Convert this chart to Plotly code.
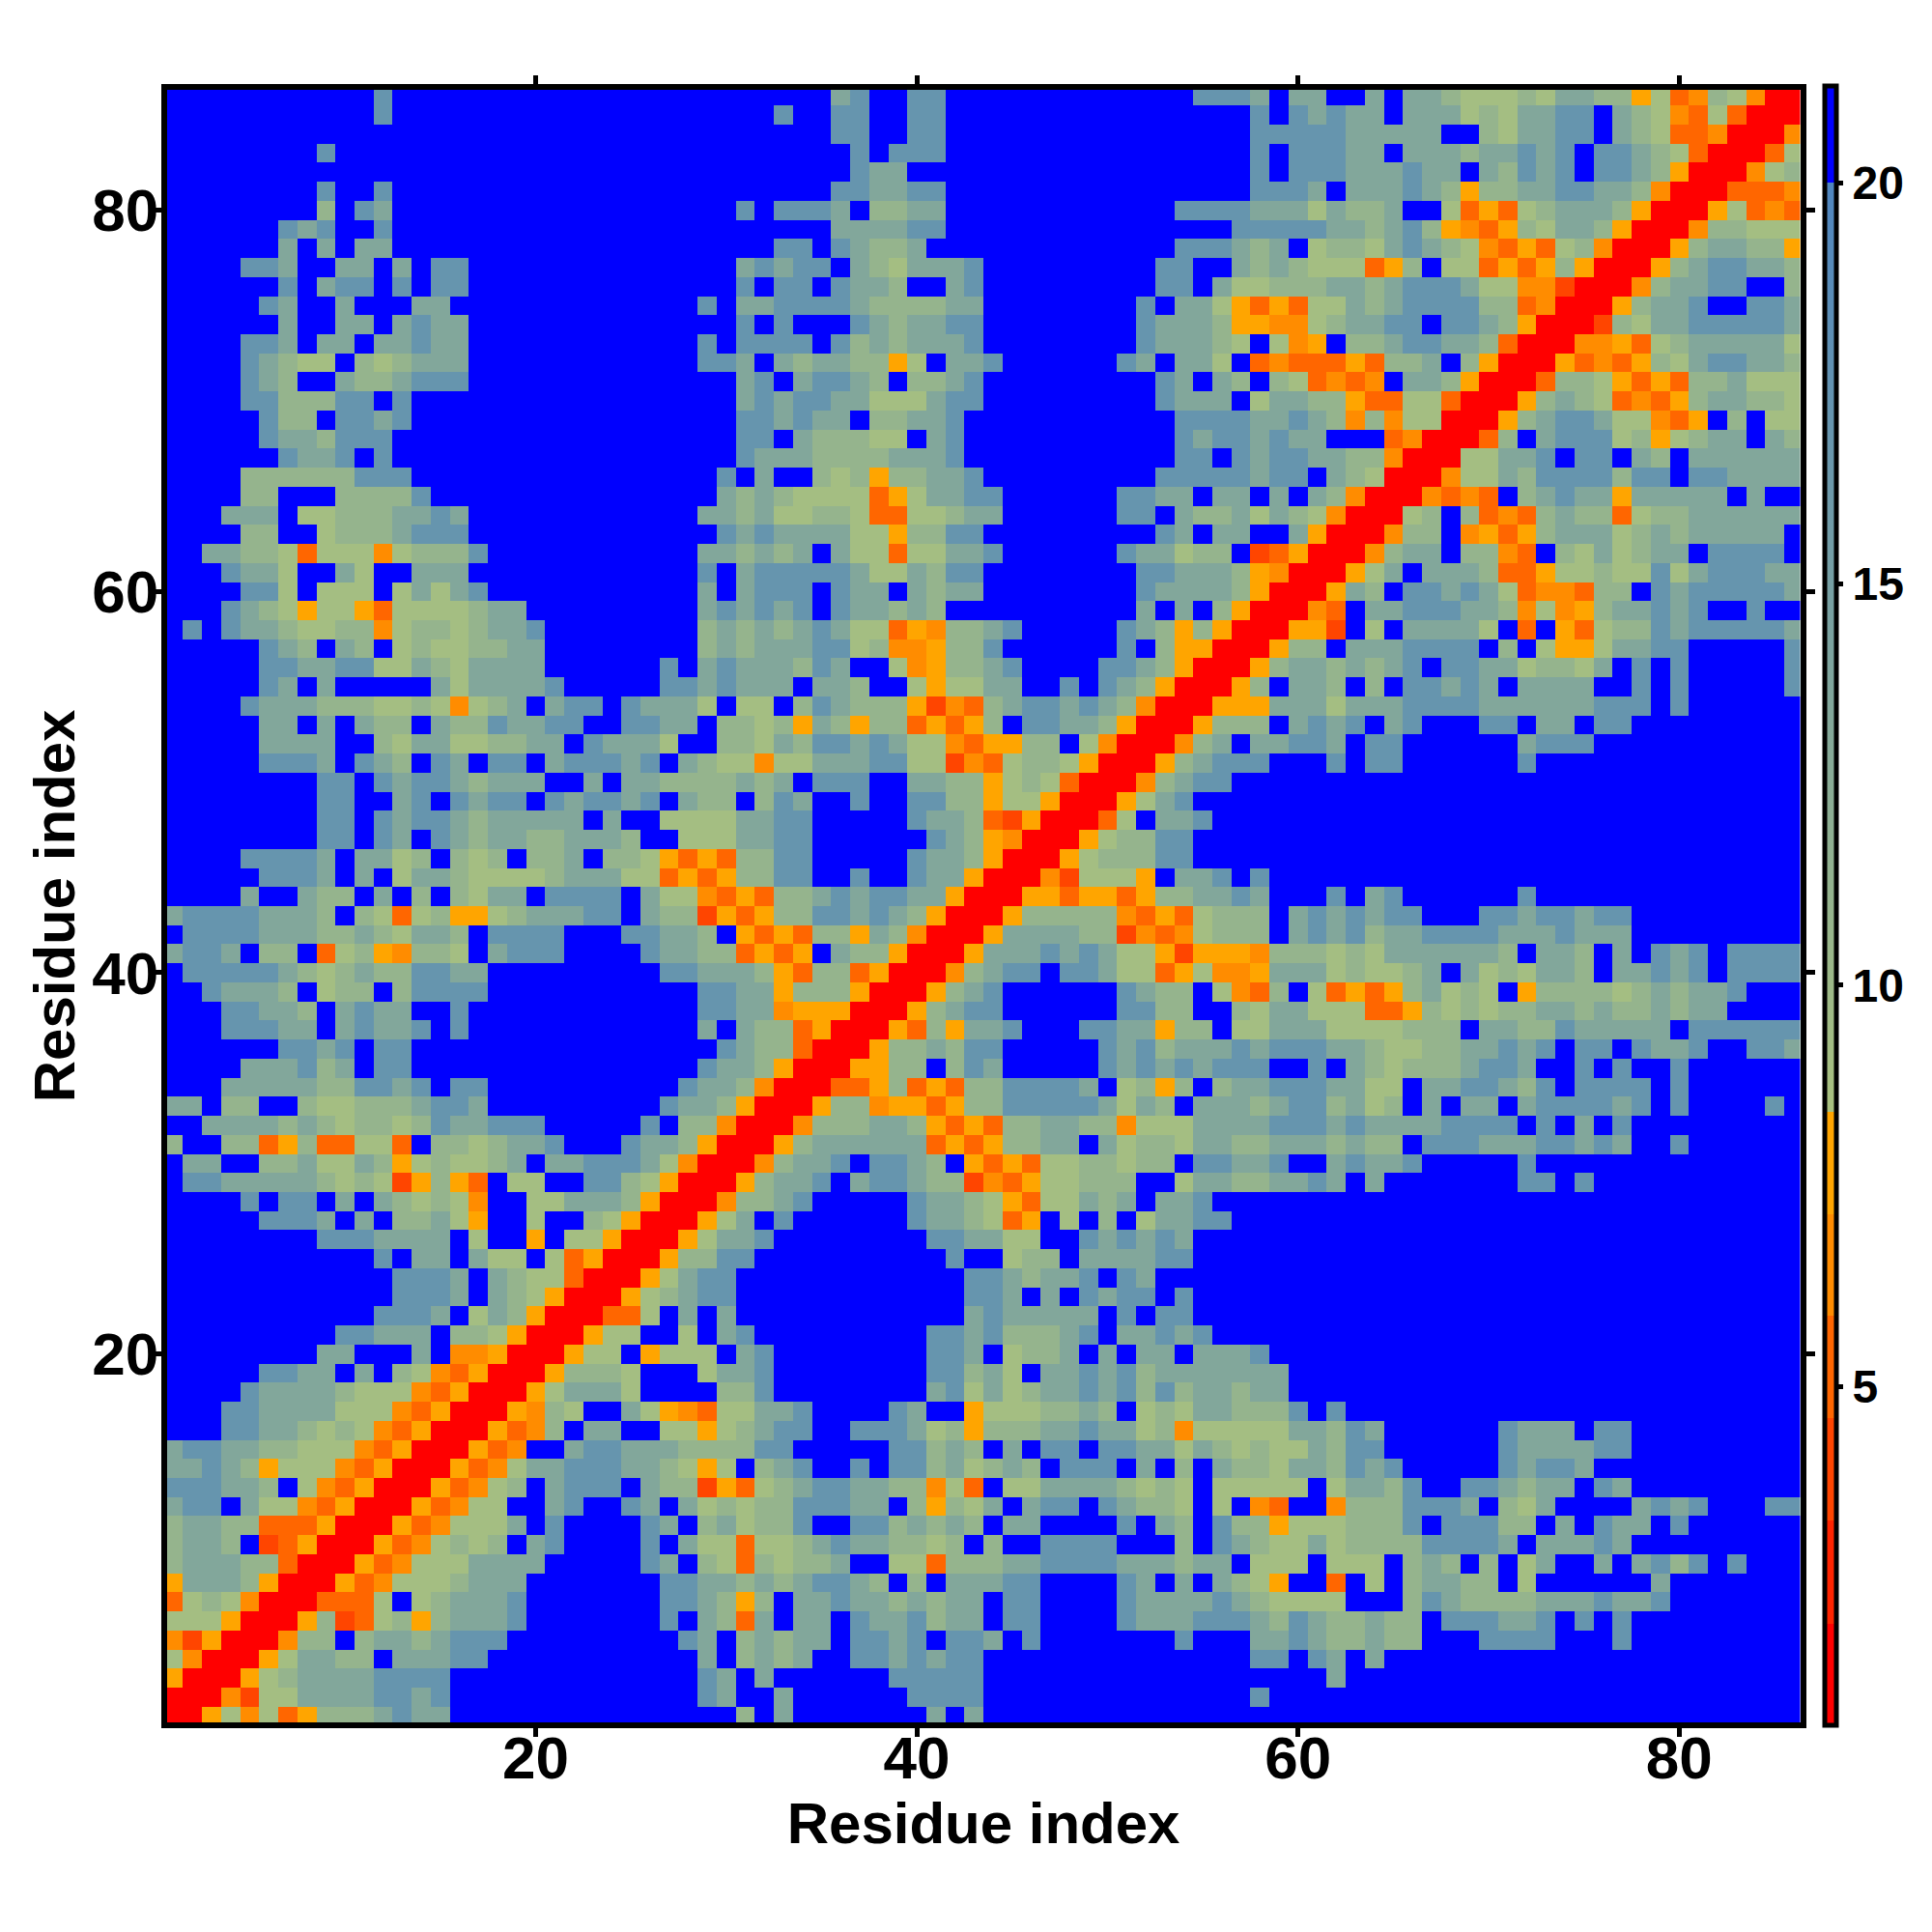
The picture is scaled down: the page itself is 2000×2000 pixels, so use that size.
import plotly.graph_objects as go

# Lower triangle of the symmetric distance map.
# Listed from residue row 86 down to row 1; each row holds columns 1..row (spaces only group cells).
# '.' = beyond cutoff (blue); digits = colour level read from the cell.
ROWS = [
".......... .9........ .......... .....89..9 9......... ....9998.8 8..8.88766 6768877563 476400",
".......... .9........ .......... ..9..99..9 9......... .......9.9 8988.88867 68899.8764 36300",
".......... .......... .......... .....99..9 9......... .......999 9988888..7 68899.8763 3400",
"........9. .......... .......... ......9.99 9......... .......9.9 9988.88878 8989.99876 300",
".......... .......... .......... ......988. .......... .......9.9 99888988.8 7989.99875 00",
"........9. .9........ .......... .....99889 9......... .......999 8.88898757 7889988740 0",
"........7. 98........ .......... 9.9998.778 8......... ...9999888 68778..635 3678887500",
"......989. .9........ .......... .....88889 9......... ......9999 9887897543 576887500",
"......8.8. 88........ .......... ..99.98778 .......... ...999878. 6776898764 35367400",
"....998..8 8.8.99.... .......... 89899.8768 889....... ..99..8787 666357.663 5357500",
"......9.89 9.9.99.... .......... 9.99.9887. .89....... ..99.86677 7887899986 644200",
".....98..8 ...88..... ........9. 8899998777 788....... .9.8865353 6687899997 73400",
"......8..8 8.8988.... .......... 9.9...9878 899....... .988875544 678899.998 7500",
"....998.88 .88988.... ........9. 9999.97878 889....... .988876.64 5.77899887 300",
"....98766. 767888.... ........99 8.87887756 .889...... 98.886.343 3353778.75 00",
"....987..8 778999.... .......... 89.89987.7 789....... ..98.87.76 3434.88750 0",
"....997779 9.9....... .......... 8989988666 899....... ..9888.688 7753366300",
".....977.9 989....... .......... 998988.778 89........ ...9999889 874746600",
".....98879 99........ .......... 99.877766. 89........ ...9899898 8...3400",
"......9889 .9........ .......... 9888777788 89........ ...99.9899 8877400",
"....777777 999....... .........9 .8..767577 889....... ..99999899 .87600",
"....77...7 7779...... .........8 7876666356 8899...... 9988.88.8. 87400",
"...888.667 778898.... ........88 7866776336 6788...... 99.8778687 6400",
"....77..67 778999.... .........9 8988886657 799....... ..98.88..8 500",
"..88776366 6467779... ........88 7878.86636 6889...... 988677.235 00",
"...9886..8 6..888.... ........9. 8999998668 799....... .998887540 0",
"....996.66 6.68689... ........8. 8999.988.8 788....... .988887500",
"...9876566 536666788. ........89 8989.98878 7......... .8.8.7500",
".9.9887667 7467767889 ........78 7878986635 47789..... 98757500",
".....987.8 7.67667788 ........78 7888996744 5779...... 9.75500",
".....99889 9668768888 ......9.89 888798..64 57789....9 987500",
".....98.8. ....868888 9.....9989 888.887..6 56688..9.9 87500",
"....988877 766764678. 899.98886. 66.7987775 2437899898 7400",
".....88.8. 877.877988 99..9988.7 7675875773 5357.99887 500",
".....8888. .768866778 8.98886..7 7687998986 6435577.64 00",
".....9998. 987.98.99. 899989.876 6466888996 6243677650 0",
"........99 .989987888 ..8.887777 878.999..8 8775676300",
"........99 ..89.9899. 989989.877 .798..9..9 977566500",
"........99 .989987888 88.8..6666 8899.....9 88732500",
"........99 .98.987887 78887..666 8899...... 9875400",
"....99998. 8867.767.7 78.7765353 7799.....9 887500",
".....9998. 8.68876666 7888663535 7799..9..9 88500",
"....8..877 .8.7.7688. 9999.86643 5377898998 8500",
"899998887. 7636755678 8899.87725 3577998987 500",
".999988877 876887.999 9...99887. 5353775874 00",
"8998.77.36 754776.899 9....98877 3535.87750 0",
".999998767 8779988... ......9988 8753773500",
"..98887.67 7.79999... ........99 885777500",
"...99887.8 988..9.... ........99 88455500",
"...99988.8 9889.9.... ........8. 8773500",
"......9989 .99....... .........9 877300",
"....888978 .99....... ........98 87500",
"...8888877 9989.99... .......988 7400",
"88.77..766 7778998... ......9887 500",
"..88887876 7767988999 .....9.774 00",
"7..7735733 663.776788 9...988750 0",
".88..77866 875676678. 8899986400",
".998888876 7625753.66 ..9976500",
"....9.99.8 .876764..6 68887500",
".....9998. 8.77865..6 ..76500",
"........99 98888.6..5 .66500",
".......... .9.88.866. 63500",
".......... ..9998.876 6300",
".......... ..9998.876 500",
".......... .9998.6875 00",
".........9 9888.77650 0",
"........88 ...8.44500",
".....9988. 8.7643500",
"....988887 66643500",
"...9988886 6643500",
"...9988767 643500",
"8998877666 43500",
"8898756664 3500",
"999887.643 500",
"899.866435 00",
"7887733350 0",
"7887.23500",
"788877300",
"58887500",
"3676400",
"666500",
"42500",
"6400",
"500",
"00",
"0",
]

LEVEL_VALUES = {"0": 1.4, "2": 3.9, "3": 5.2, "4": 6.5, "5": 7.8,
                "6": 9.0, "7": 11.0, "8": 13.5, "9": 17.0, ".": 20.8}
RESIDUES = list(range(1, 87))
AXIS_TICKS = [20, 40, 60, 80]
BAR_TICKS = [5, 10, 15, 20]
AXIS_TITLE = "Residue index"

ZMIN, ZMAX = 0.77, 21.2
STEPS = [(0.77, 2.04, "#FF0000"), (2.04, 3.32, "#FF2400"), (3.32, 4.6, "#FF4500"),
         (4.6, 5.87, "#FF6600"), (5.87, 7.14, "#FF8C00"), (7.14, 8.42, "#FFA500")]


def norm(v):
    return (v - ZMIN) / (ZMAX - ZMIN)


scale = []
for lo, hi, col in STEPS:
    scale += [[norm(lo), col], [norm(hi), col]]
scale += [[norm(8.42), "#A9C17F"], [norm(20.0), "#4F85BF"], [norm(20.0), "#0000FF"], [1.0, "#0000FF"]]

n = len(RESIDUES)
z = [[None] * n for _ in range(n)]
bad = []
for k, text in enumerate(ROWS):
    row_no = n - k
    cells = text.replace(" ", "")
    if len(cells) != row_no:
        bad.append((row_no, len(cells)))
        cells = (cells + "." * n)[:row_no]
    for c, ch in enumerate(cells):
        z[row_no - 1][c] = LEVEL_VALUES[ch]
        z[c][row_no - 1] = LEVEL_VALUES[ch]
if bad:
    print("row length problems:", bad)

W = 2000
# the page adds 8 px of body margin, so the positions are given 8 px short of the target
L, R, T, B = 161.7, 1858.5, 81.5, 1778.3
FRAME = 6
INSET = FRAME / 2                 # plotly draws its axis line outside the domain
CELL = (R - L) / 86
AXIS_RANGE = [0.5 + INSET / CELL, 86.5 - INSET / CELL]
FONT = "Liberation Sans"

fig = go.Figure(go.Heatmap(
    x=RESIDUES, y=RESIDUES, z=z, zmin=ZMIN, zmax=ZMAX, colorscale=scale,
    colorbar=dict(
        lenmode="fraction", len=(B - T) / W, y=1 - (T + B) / 2 / W, yanchor="middle", yref="paper",
        x=1881 / W, xanchor="left", xref="paper", thickness=12, xpad=0, ypad=0,
        outlinecolor="black", outlinewidth=5,
        tickvals=BAR_TICKS, ticks="outside", ticklen=5, tickwidth=5, tickcolor="black",
        tickfont=dict(family=FONT, size=48, color="black", weight=700),
    ),
))

axis = dict(
    range=AXIS_RANGE, tickvals=AXIS_TICKS, ticks="outside", ticklen=9, tickwidth=5,
    tickcolor="black", showline=True, linecolor="black", linewidth=FRAME, mirror="ticks",
    showgrid=False, zeroline=False,
    tickfont=dict(family=FONT, size=62, color="black", weight=700),
)
title_font = dict(family=FONT, size=60, color="black", weight=700)
fig.update_layout(
    width=W, height=W, autosize=False, margin=dict(l=0, r=0, t=0, b=0),
    paper_bgcolor="white", plot_bgcolor="white",
    xaxis=dict(axis, domain=[(L + INSET) / W, (R - INSET) / W], ticklabelstandoff=-32,
               title=dict(text=AXIS_TITLE, standoff=0, font=title_font)),
    yaxis=dict(axis, domain=[1 - (B - INSET) / W, 1 - (T + INSET) / W], ticklabelstandoff=-19,
               title=dict(text=AXIS_TITLE, standoff=0, font=title_font)),
)
fig.write_html("out.html")
